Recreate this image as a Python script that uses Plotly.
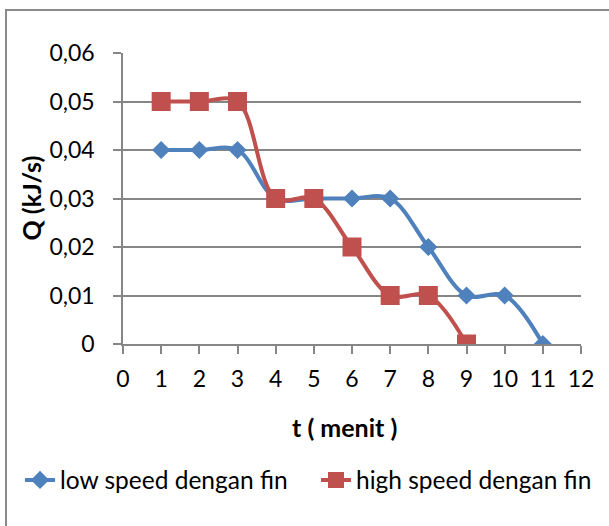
import plotly.graph_objects as go

# ---- data ----
t_low = [1, 2, 3, 4, 5, 6, 7, 8, 9, 10, 11]
q_low = [0.04, 0.04, 0.04, 0.03, 0.03, 0.03, 0.03, 0.02, 0.01, 0.01, 0.0]
t_high = [1, 2, 3, 4, 5, 6, 7, 8, 9]
q_high = [0.05, 0.05, 0.05, 0.03, 0.03, 0.02, 0.01, 0.01, 0.0]
y_tick_vals = [0, 0.01, 0.02, 0.03, 0.04, 0.05, 0.06]
y_tick_labels = ["0", "0,01", "0,02", "0,03", "0,04", "0,05", "0,06"]
x_tick_vals = list(range(0, 13))
name_low = "low speed dengan fin"
name_high = "high speed dengan fin"

W, H = 609, 526
ML, MR, MT, MB = 123, 28, 53, 182
PW, PH = W - ML - MR, H - MT - MB

FONT = "Lato"
BLUE = "#4F81BD"
RED = "#C0504D"
GRID = "#868686"

fig = go.Figure()
fig.add_trace(go.Scatter(
    x=t_low, y=q_low, name=name_low, mode="lines+markers", legend="legend",
    line=dict(color=BLUE, width=4, shape="spline", smoothing=1.0),
    marker=dict(symbol="diamond", size=14, color=BLUE),
))
fig.add_trace(go.Scatter(
    x=t_high, y=q_high, name=name_high, mode="lines+markers", legend="legend2",
    line=dict(color=RED, width=4, shape="spline", smoothing=1.0),
    marker=dict(symbol="square", size=19, color=RED),
))

leg_font = dict(family=FONT, size=24.5, color="black")
fig.update_layout(
    width=W, height=H,
    margin=dict(l=ML, r=MR, t=MT, b=MB, autoexpand=False),
    paper_bgcolor="white", plot_bgcolor="white",
    font=dict(family=FONT, size=23, color="black"),
    showlegend=True,
    legend=dict(orientation="h", xref="container", yref="container",
                x=20 / W, y=1 - 480 / H, xanchor="left", yanchor="middle",
                font=leg_font, bgcolor="rgba(0,0,0,0)"),
    legend2=dict(orientation="h", xref="container", yref="container",
                 x=316 / W, y=1 - 480 / H, xanchor="left", yanchor="middle",
                 font=leg_font, bgcolor="rgba(0,0,0,0)"),
    xaxis=dict(range=[0, 12], tickvals=x_tick_vals, showgrid=False,
               showline=True, linecolor=GRID, linewidth=1.5,
               ticks="outside", ticklen=8, tickwidth=1.5, tickcolor=GRID,
               ticklabelstandoff=6, zeroline=False, fixedrange=True),
    yaxis=dict(range=[0, 0.06], tickvals=y_tick_vals, ticktext=y_tick_labels,
               showgrid=True, gridcolor=GRID, gridwidth=1.5,
               showline=True, linecolor=GRID, linewidth=1.5,
               ticks="outside", ticklen=8, tickwidth=1.5, tickcolor=GRID,
               ticklabelstandoff=14, zeroline=False, fixedrange=True),
    annotations=[
        dict(text="<b>Q (kJ/s)</b>", xref="paper", yref="paper",
             x=(30 - ML) / PW, y=0.5, textangle=-90, showarrow=False,
             xanchor="center", yanchor="middle",
             font=dict(family=FONT, size=25, color="black")),
        dict(text="<b>t ( menit )</b>", xref="paper", yref="paper",
             x=(344 - ML) / PW, y=-(427 - (H - MB)) / PH, showarrow=False,
             xanchor="center", yanchor="middle",
             font=dict(family=FONT, size=25, color="black")),
    ],
    shapes=[dict(type="rect", xref="paper", yref="paper",
                 x0=(6 - ML) / PW, x1=1.5, y0=-1.0, y1=(H - 10 - MB) / PH,
                 line=dict(color="#8a8a8a", width=2), fillcolor="rgba(0,0,0,0)",
                 layer="below")],
)

fig.write_html("out.html")
